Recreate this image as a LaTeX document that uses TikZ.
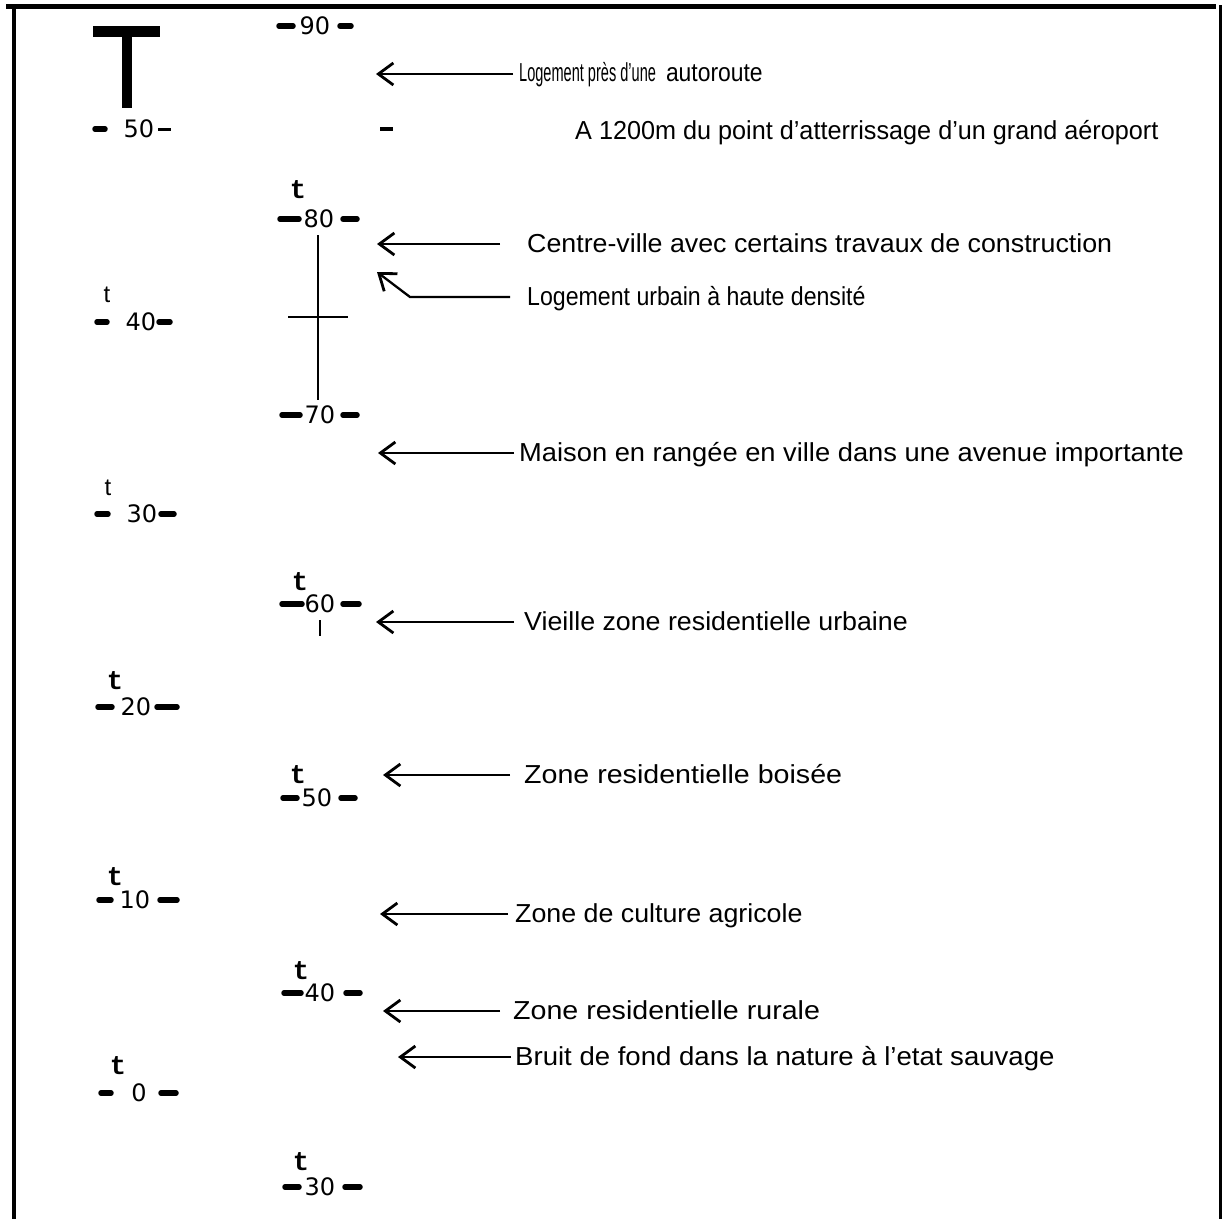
\documentclass[tikz,border=0pt]{standalone}
\usepackage{graphicx}
\usepackage{fontspec}
\setmainfont{Liberation Sans}
\newfontfamily\tfont{Liberation Mono}
\newfontfamily\numfont{DejaVu Sans}
\usetikzlibrary{arrows.meta}
\newcommand\sx[2]{\scalebox{#1}[1]{#2}}
\newcommand\smk[8]{%
  \node[num] (#1) at (#3,#4) {#2};
  \draw[bar] (#5,#4) -- (#6,#4);
  \draw[bar] (#7,#4) -- (#8,#4);}
\begin{document}
\begin{tikzpicture}[x=1pt,y=-1pt,
  lbl/.style={anchor=base west,inner sep=0pt,font=\fontsize{26}{30}\selectfont},
  num/.style={inner sep=0pt,font=\numfont\fontsize{24}{26}\selectfont},
  bar/.style={line width=5.5pt,line cap=round},
  thinbar/.style={line width=3pt},
  tmono/.style={inner sep=0pt,font=\tfont\bfseries\fontsize{27}{28}\selectfont},
  tsans/.style={inner sep=0pt,font=\fontsize{24}{26}\selectfont},
  ptr/.style={line width=2.3pt,-{Straight Barb[length=15pt,width=22pt,line width=2.8pt]}},
  frame/.style={line width=4.5pt}]
\useasboundingbox (0,0) rectangle (1222,1219);
% frame
\draw[frame] (6,6.5) -- (1216,6.5);
\draw[frame] (14,6) -- (14,1219);
\draw[line width=4pt] (1220.5,5) -- (1220.5,1219);
% big T
\fill (93,26) rectangle (160,37);
\fill (122,26) rectangle (132,108);
% left scale
\node[num] (L50) at (139,129) {50};
\draw[bar] (95,129) -- (105,129);
\draw[thinbar] (158,129) -- (171,129);
\smk{L40}{40}{141}{322}{97}{107}{159}{170}
\smk{L30}{30}{142}{514}{97}{108}{161}{174}
\smk{L20}{20}{136}{707}{98}{112}{157}{177}
\smk{L10}{10}{135}{900}{99}{111}{160}{177}
\smk{L0}{0}{139}{1093}{101}{111}{161}{176}
\node[tsans] (tL40) at (107,295) {t};
\node[tsans] (tL30) at (108,488) {t};
\node[tmono] (tL20) at (115,681) {t};
\node[tmono] (tL10) at (115,877) {t};
\node[tmono] (tL0) at (118,1066) {t};
% right scale
\smk{R90}{90}{315}{26}{279}{293}{340}{351}
\smk{R80}{80}{319}{219}{280}{299}{343}{357}
\smk{R70}{70}{320}{415}{282}{300}{343}{357}
\smk{R60}{60}{320}{604}{282}{302}{343}{359}
\smk{R50}{50}{317}{798}{283}{297}{341}{355}
\smk{R40}{40}{320}{993}{284}{301}{346}{360}
\smk{R30}{30}{320}{1187}{285}{299}{345}{360}
\node[tmono] (tR80) at (298,190) {t};
\node[tmono] (tR60) at (300,582) {t};
\node[tmono] (tR50) at (298,775) {t};
\node[tmono] (tR40) at (301,971) {t};
\node[tmono] (tR30) at (301,1162) {t};
\draw[line width=2.5pt] (318,235) -- (318,400);
\draw[line width=2.5pt] (288,317) -- (348,317);
\draw[line width=2pt] (320,620) -- (320,636);
\draw[line width=3.5pt] (380,129) -- (393,129);
% labels
\node[lbl] (a1) at (519,81) {\sx{0.56}{Logement près d’une}\hspace{10pt}\sx{0.88}{autoroute}};
\node[lbl] (a2) at (575,139) {\sx{0.97}{A 1200m du point d’atterrissage d’un grand aéroport}};
\node[lbl] (a3) at (527,252) {\sx{1.03}{Centre-ville avec certains travaux de construction}};
\node[lbl] (a4) at (527,305) {\sx{0.89}{Logement urbain à haute densité}};
\node[lbl] (a5) at (519,461) {\sx{1.05}{Maison en rangée en ville dans une avenue importante}};
\node[lbl] (a6) at (524,630) {\sx{1.03}{Vieille zone residentielle urbaine}};
\node[lbl] (a7) at (524,783) {\sx{1.10}{Zone residentielle boisée}};
\node[lbl] (a8) at (515,922) {\sx{1.03}{Zone de culture agricole}};
\node[lbl] (a9) at (513,1019) {\sx{1.10}{Zone residentielle rurale}};
\node[lbl] (a10) at (515,1065) {\sx{1.06}{Bruit de fond dans la nature à l’etat sauvage}};
% arrow tips
\coordinate (e1) at (376,74);
\coordinate (e3) at (377,244);
\coordinate (k4) at (410,297);
\coordinate (e4) at (377,272);
\coordinate (e5) at (378,453);
\coordinate (e6) at (376,622);
\coordinate (e7) at (383,775);
\coordinate (e8) at (380,914);
\coordinate (e9) at (383,1011);
\coordinate (e10) at (398,1057);
\draw[ptr] ([shift={(-6pt,7pt)}]a1.base west) -- (e1);
\draw[ptr] ([shift={(-27pt,8pt)}]a3.base west) -- (e3);
\draw[ptr] ([shift={(-17pt,8pt)}]a4.base west) -- (k4) -- (e4);
\draw[ptr] ([shift={(-5pt,8pt)}]a5.base west) -- (e5);
\draw[ptr] ([shift={(-10pt,8pt)}]a6.base west) -- (e6);
\draw[ptr] ([shift={(-14pt,8pt)}]a7.base west) -- (e7);
\draw[ptr] ([shift={(-7pt,8pt)}]a8.base west) -- (e8);
\draw[ptr] ([shift={(-13pt,8pt)}]a9.base west) -- (e9);
\draw[ptr] ([shift={(-4pt,8pt)}]a10.base west) -- (e10);
\end{tikzpicture}
\end{document}
